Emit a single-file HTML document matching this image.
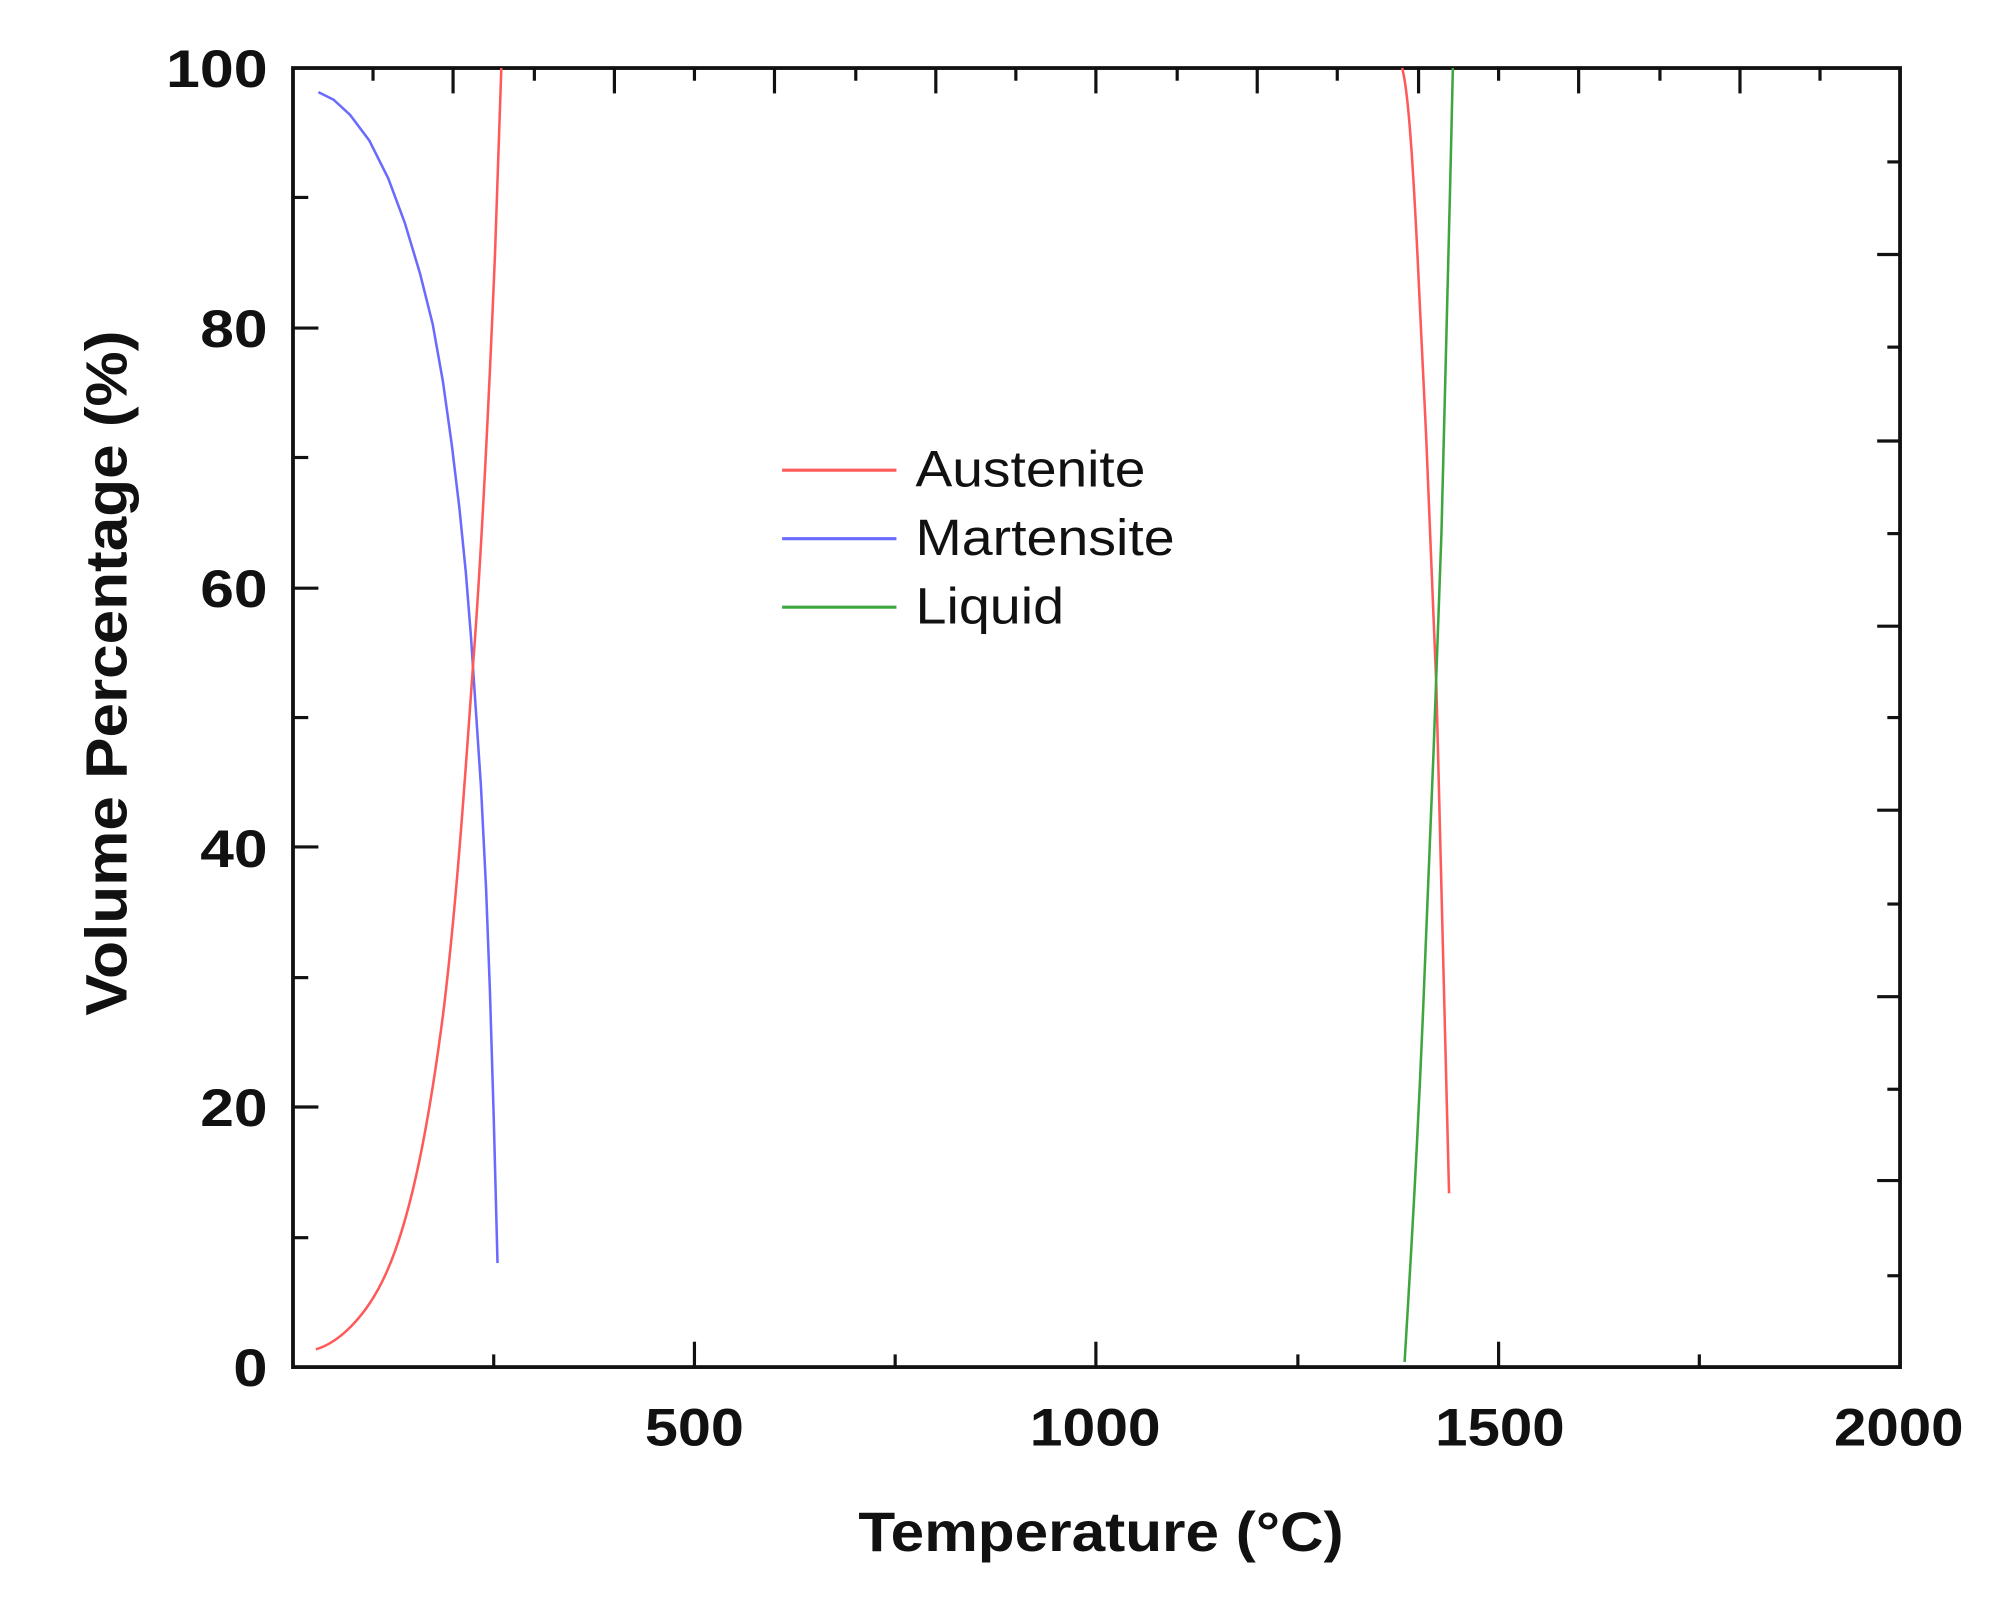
<!DOCTYPE html>
<html><head><meta charset="utf-8"><style>
html,body{margin:0;padding:0;background:#fff;width:1991px;height:1600px;overflow:hidden}
svg{display:block}
text{font-family:"Liberation Sans",Arial,sans-serif;fill:#111}
</style></head><body>
<svg width="1991" height="1600" viewBox="0 0 1991 1600" xmlns="http://www.w3.org/2000/svg">
<g transform="translate(0.8,0.8) scale(1.2704,1.2686)">
<rect x="230" y="53" width="1265" height="1024" fill="none" stroke="#111" stroke-width="3"/>
<g stroke="#111" stroke-width="2.5">
<line x1="546" y1="1077" x2="546" y2="1057"/><line x1="862" y1="1077" x2="862" y2="1057"/><line x1="1179" y1="1077" x2="1179" y2="1057"/>
<line x1="388" y1="1077" x2="388" y2="1067"/><line x1="704" y1="1077" x2="704" y2="1067"/><line x1="1021" y1="1077" x2="1021" y2="1067"/><line x1="1337" y1="1077" x2="1337" y2="1067"/>
<line x1="293" y1="53" x2="293" y2="63"/><line x1="356" y1="53" x2="356" y2="73"/><line x1="420" y1="53" x2="420" y2="63"/><line x1="483" y1="53" x2="483" y2="73"/>
<line x1="546" y1="53" x2="546" y2="63"/><line x1="609" y1="53" x2="609" y2="73"/><line x1="673" y1="53" x2="673" y2="63"/><line x1="736" y1="53" x2="736" y2="73"/>
<line x1="799" y1="53" x2="799" y2="63"/><line x1="862" y1="53" x2="862" y2="73"/><line x1="926" y1="53" x2="926" y2="63"/><line x1="989" y1="53" x2="989" y2="73"/>
<line x1="1052" y1="53" x2="1052" y2="63"/><line x1="1116" y1="53" x2="1116" y2="73"/><line x1="1179" y1="53" x2="1179" y2="63"/><line x1="1242" y1="53" x2="1242" y2="73"/>
<line x1="1306" y1="53" x2="1306" y2="63"/><line x1="1369" y1="53" x2="1369" y2="73"/><line x1="1432" y1="53" x2="1432" y2="63"/>
<line x1="230" y1="155" x2="242" y2="155"/><line x1="230" y1="258" x2="250" y2="258"/><line x1="230" y1="360" x2="242" y2="360"/><line x1="230" y1="463" x2="250" y2="463"/>
<line x1="230" y1="565" x2="242" y2="565"/><line x1="230" y1="667" x2="250" y2="667"/><line x1="230" y1="770" x2="242" y2="770"/><line x1="230" y1="872" x2="250" y2="872"/><line x1="230" y1="975" x2="242" y2="975"/>
<line x1="1495" y1="127" x2="1485" y2="127"/><line x1="1495" y1="200" x2="1477" y2="200"/><line x1="1495" y1="273" x2="1485" y2="273"/><line x1="1495" y1="347" x2="1477" y2="347"/>
<line x1="1495" y1="420" x2="1485" y2="420"/><line x1="1495" y1="493" x2="1477" y2="493"/><line x1="1495" y1="565" x2="1485" y2="565"/><line x1="1495" y1="638" x2="1477" y2="638"/>
<line x1="1495" y1="712" x2="1485" y2="712"/><line x1="1495" y1="785" x2="1477" y2="785"/><line x1="1495" y1="858" x2="1485" y2="858"/><line x1="1495" y1="930" x2="1477" y2="930"/><line x1="1495" y1="1005" x2="1485" y2="1005"/>
</g>
<g fill="none" stroke-width="2" stroke-linejoin="round">
<polyline stroke="#6a6aff" points="250,72 262,78 275,90 290,110 305,140 318,175 330,215 340,255 348,300 355,350 361,400 366,450 370,500 374,560 378,620 382,700 385,780 388,880 391,995"/>
<path stroke="#ff5a5a" d="M248,1063 C265,1058 285,1040 300,1010 C320,970 335,900 348,800 C358,720 365,620 372,520 C378,440 384,320 389,200 L394,53"/>
<path stroke="#ff5a5a" d="M1103,53 C1108,70 1112,130 1117,240 C1122,340 1127,450 1130,540 C1134,660 1137,800 1140,940"/>
<path stroke="#3fa63f" d="M1105,1073 C1110,990 1116,890 1121,760 C1126,640 1130,540 1134,420 C1137,320 1139,230 1141,140 L1143,53"/>
</g>
<line x1="615" y1="370" x2="705" y2="370" stroke="#ff5a5a" stroke-width="2.5"/>
<line x1="615" y1="424" x2="705" y2="424" stroke="#6a6aff" stroke-width="2.5"/>
<line x1="615" y1="478" x2="705" y2="478" stroke="#3fa63f" stroke-width="2.5"/>
<text x="720" y="383" font-size="40" textLength="181" lengthAdjust="spacingAndGlyphs">Austenite</text>
<text x="720" y="437" font-size="40" textLength="204" lengthAdjust="spacingAndGlyphs">Martensite</text>
<text x="720" y="491" font-size="40" textLength="117" lengthAdjust="spacingAndGlyphs">Liquid</text>
<g font-size="42" font-weight="bold">
<text x="130" y="68" textLength="80" lengthAdjust="spacingAndGlyphs">100</text>
<text x="157" y="273" textLength="53" lengthAdjust="spacingAndGlyphs">80</text>
<text x="157" y="478" textLength="53" lengthAdjust="spacingAndGlyphs">60</text>
<text x="157" y="683" textLength="53" lengthAdjust="spacingAndGlyphs">40</text>
<text x="157" y="887" textLength="53" lengthAdjust="spacingAndGlyphs">20</text>
<text x="183" y="1092" textLength="27" lengthAdjust="spacingAndGlyphs">0</text>
<text x="507" y="1139" textLength="78" lengthAdjust="spacingAndGlyphs">500</text>
<text x="810" y="1139" textLength="103" lengthAdjust="spacingAndGlyphs">1000</text>
<text x="1129" y="1139" textLength="102" lengthAdjust="spacingAndGlyphs">1500</text>
<text x="1443" y="1139" textLength="102" lengthAdjust="spacingAndGlyphs">2000</text>
</g>
<text x="675" y="1222" font-size="44" font-weight="bold" textLength="382" lengthAdjust="spacingAndGlyphs">Temperature (°C)</text>
<text transform="translate(99,800) rotate(-90)" font-size="46" font-weight="bold" textLength="540" lengthAdjust="spacingAndGlyphs">Volume Percentage (%)</text>
</g>
</svg>
</body></html>
